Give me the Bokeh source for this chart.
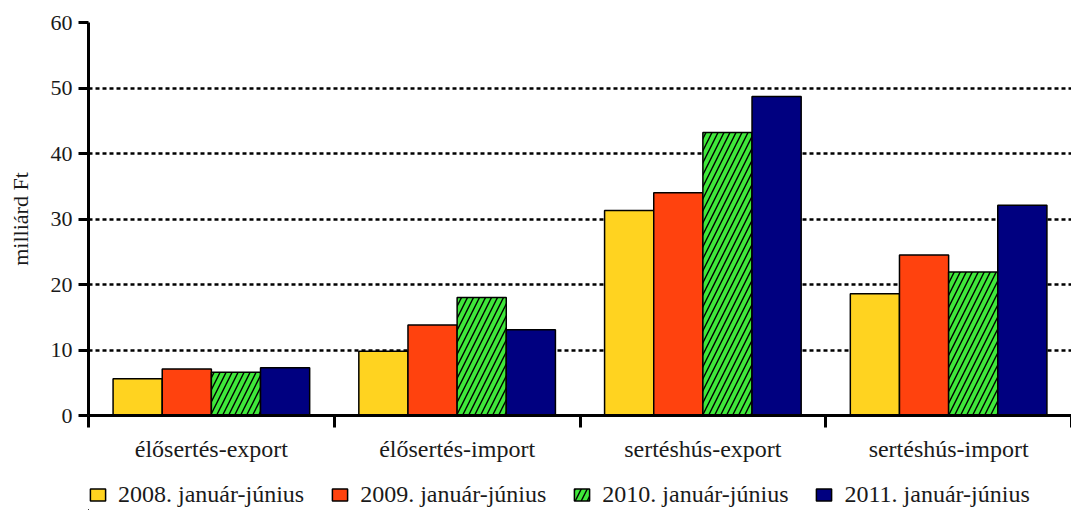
from bokeh.plotting import figure
from bokeh.models import ColumnDataSource, FixedTicker, Legend, LegendItem, Range1d
from bokeh.layouts import column
from bokeh.embed import file_html
from bokeh.resources import INLINE
import numpy as np

categories = ["élősertés-export", "élősertés-import", "sertéshús-export", "sertéshús-import"]
series_names = ["2008. január-június", "2009. január-június", "2010. január-június", "2011. január-június"]
v2008 = [5.6, 9.8, 31.3, 18.6]
v2009 = [7.1, 13.8, 34.0, 24.5]
v2010 = [6.6, 18.0, 43.2, 21.9]
v2011 = [7.3, 13.1, 48.7, 32.1]
y_ticks = [0, 10, 20, 30, 40, 50, 60]

series = [v2008, v2009, v2010, v2011]
colors = ["#FFD320", "#FF420E", "#3FE83A", "#000080"]
hatches = [None, None, "right_diagonal_line", None]
offsets = [-0.3, -0.1, 0.1, 0.3]

FONT = "Liberation Serif"
TXT = "#1a1a1a"

p = figure(frame_width=983, frame_height=393, output_backend="svg", toolbar_location=None,
           x_range=Range1d(0, len(categories)), y_range=Range1d(0, 60),
           min_border_left=88, min_border_right=0, min_border_top=22, min_border_bottom=0)
p.outline_line_color = None
p.xgrid.visible = False
p.ygrid.grid_line_color = "black"
p.ygrid.grid_line_width = 2.5
p.ygrid.grid_line_dash = "4 3"

# legend-only strip below the chart; its ranges lie away from the data so
# the shared bar renderers there only serve as legend swatches
pl = figure(width=1071, height=46, output_backend="svg", toolbar_location=None,
            x_range=Range1d(100, 101), y_range=Range1d(100, 101),
            x_axis_location=None, y_axis_location=None,
            min_border=0)
pl.outline_line_color = None
pl.xgrid.visible = False
pl.ygrid.visible = False

centers = np.arange(len(categories)) + 0.5
items = []
for vals, name, col, hat, off in zip(series, series_names, colors, hatches, offsets):
    src = ColumnDataSource(dict(x=centers + off, top=vals))
    kw = {}
    if hat:
        kw = dict(hatch_pattern=hat, hatch_color="black", hatch_scale=12, hatch_weight=1.4)
    p.vbar(x="x", top="top", width=0.2, bottom=0, source=src, fill_color=col,
           line_color="black", line_width=1.5, **kw)
    r = pl.vbar(x="x", top="top", width=0.2, bottom=0, source=src, fill_color=col,
                line_color="black", line_width=1.5, **kw)
    items.append(LegendItem(label=name, renderers=[r]))

# x axis: labels at centers, tick marks at category boundaries
p.xaxis.ticker = FixedTicker(ticks=list(centers), minor_ticks=list(range(len(categories) + 1)))
p.xaxis.major_label_overrides = {float(c): cat for c, cat in zip(centers, categories)}
p.xaxis.major_tick_line_color = None
p.xaxis.major_tick_out = 0
p.xaxis.major_tick_in = 0
p.xaxis.minor_tick_line_color = "black"
p.xaxis.minor_tick_line_width = 3
p.xaxis.minor_tick_out = 12
p.xaxis.minor_tick_in = 0
p.xaxis.axis_line_width = 3
p.xaxis.major_label_standoff = 8
p.xaxis.major_label_text_font = FONT
p.xaxis.major_label_text_font_size = "24px"
p.xaxis.major_label_text_color = TXT

p.yaxis.ticker = FixedTicker(ticks=y_ticks)
p.yaxis.minor_tick_line_color = None
p.yaxis.axis_line_width = 3
p.yaxis.major_tick_line_width = 3
p.yaxis.major_tick_out = 10
p.yaxis.major_tick_in = 0
p.yaxis.major_label_standoff = 6
p.yaxis.major_label_text_font = FONT
p.yaxis.major_label_text_font_size = "22px"
p.yaxis.major_label_text_color = TXT
p.yaxis.axis_label = "milliárd Ft"
p.yaxis.axis_label_text_font = FONT
p.yaxis.axis_label_text_font_size = "22px"
p.yaxis.axis_label_text_font_style = "normal"
p.yaxis.axis_label_text_color = TXT
p.yaxis.axis_label_standoff = 15

legend = Legend(items=items, orientation="horizontal", location=(0, 2),
                label_text_font=FONT, label_text_font_size="24px", label_text_color=TXT,
                glyph_width=19, glyph_height=15, label_standoff=11, spacing=26,
                border_line_color=None, background_fill_alpha=0, padding=0, margin=0)
pl.add_layout(legend, "center")

layout = column(p, pl, spacing=0)
open("out.html", "w").write(file_html(layout, INLINE))
